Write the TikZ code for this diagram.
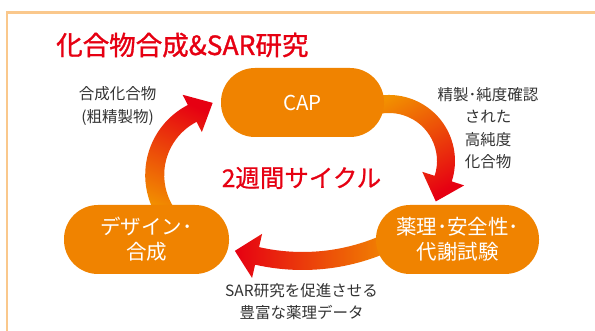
\documentclass[tikz,border=0pt]{standalone}
\usepackage{fontspec}
\setmainfont{Noto Sans CJK JP}
\newfontfamily\heavyjp[FakeBold=1.2]{Noto Sans CJK JP}
\newfontfamily\mediumjp[FakeBold=0.7]{Noto Sans CJK JP}
\usetikzlibrary{calc}
\definecolor{nodeorange}{HTML}{F08300}
\definecolor{arrred}{HTML}{E60012}
\definecolor{arrorange}{HTML}{F29100}
\definecolor{titlered}{HTML}{E60012}
\definecolor{framec}{HTML}{FAC88C}
\definecolor{labelgray}{HTML}{333333}
% #1 cx, #2 cy, #3 R, #4 start angle, #5 end angle, #6 shaft width, #7 head half width, #8 head length, #9 shading
\newcommand\cyclearrow[9]{%
  \pgfmathsetmacro\aro{#3+#6/2}%
  \pgfmathsetmacro\ari{#3-#6/2}%
  \pgfmathsetmacro\arwo{#3+#7}%
  \pgfmathsetmacro\arwi{#3-#7}%
  \pgfmathsetmacro\artx{#1+#3*cos(#5)-#8*sin(#5)}%
  \pgfmathsetmacro\arty{#2+#3*sin(#5)+#8*cos(#5)}%
  \shade[#9] ($(#1,#2)+(#4:\aro)$) arc[start angle=#4, end angle=#5, radius=\aro]
    -- ($(#1,#2)+(#5:\arwo)$) -- (\artx,\arty) -- ($(#1,#2)+(#5:\arwi)$)
    -- ($(#1,#2)+(#5:\ari)$) arc[start angle=#5, end angle=#4, radius=\ari] -- cycle;
}
\begin{document}
\begin{tikzpicture}[x=1pt,y=-1pt,
  stadium/.style={draw=none, fill=nodeorange, rounded corners=34pt, minimum width=#1,
    minimum height=69pt, text=white, font=\fontsize{20.5}{25}\selectfont, align=center, inner sep=0pt},
  lbl/.style={text=labelgray, font=\fontsize{15.5}{22.5}\selectfont, align=center, inner sep=0pt},
  cyc/.style={text=titlered, font=\mediumjp\fontsize{24.5}{28}\selectfont, inner sep=0pt},
  ttl/.style={text=titlered, font=\heavyjp\fontsize{26.5}{30}\selectfont, inner sep=0pt},
  frame/.style={draw=framec, line width=2.5pt}]
\useasboundingbox (0,0) rectangle (595,331);
\fill[white] (0,0) rectangle (595,331);
\draw[frame] (7,345) |- (610,12.5);
% arrows
\cyclearrow{224}{175}{69.3}{145}{242.7}{19}{21}{23}{top color=arrred, bottom color=arrorange, shading angle=-24}
\cyclearrow{389}{161}{57}{-110}{18}{18}{22}{24}{top color=arrred, bottom color=arrorange, shading angle=-151}
\cyclearrow{302.5}{56}{205}{62}{102.8}{18}{22.6}{22.8}{left color=arrred, right color=arrorange}
% nodes
\node[stadium=163pt] (cap) at (302.5,102.5) {CAP};
\node[stadium=165pt] (design) at (146.5,239.5) {デザイン･\\合成};
\node[stadium=163pt] (pharm) at (457.5,239.5) {薬理･安全性･\\代謝試験};
% labels
\node[lbl] (synth) at (117.5,106) {合成化合物\\(粗精製物)};
\node[lbl] (pure) at (488,128) {精製･純度確認\\された\\高純度\\化合物};
\node[lbl] (data) at (301.5,301.5) {SAR研究を促進させる\\豊富な薬理データ};
\node[cyc] (cycle) at (301.5,178) {2週間サイクル};
\node[ttl, anchor=base west] (title) at (56,55) {化合物合成\&SAR研究};
\end{tikzpicture}
\end{document}
